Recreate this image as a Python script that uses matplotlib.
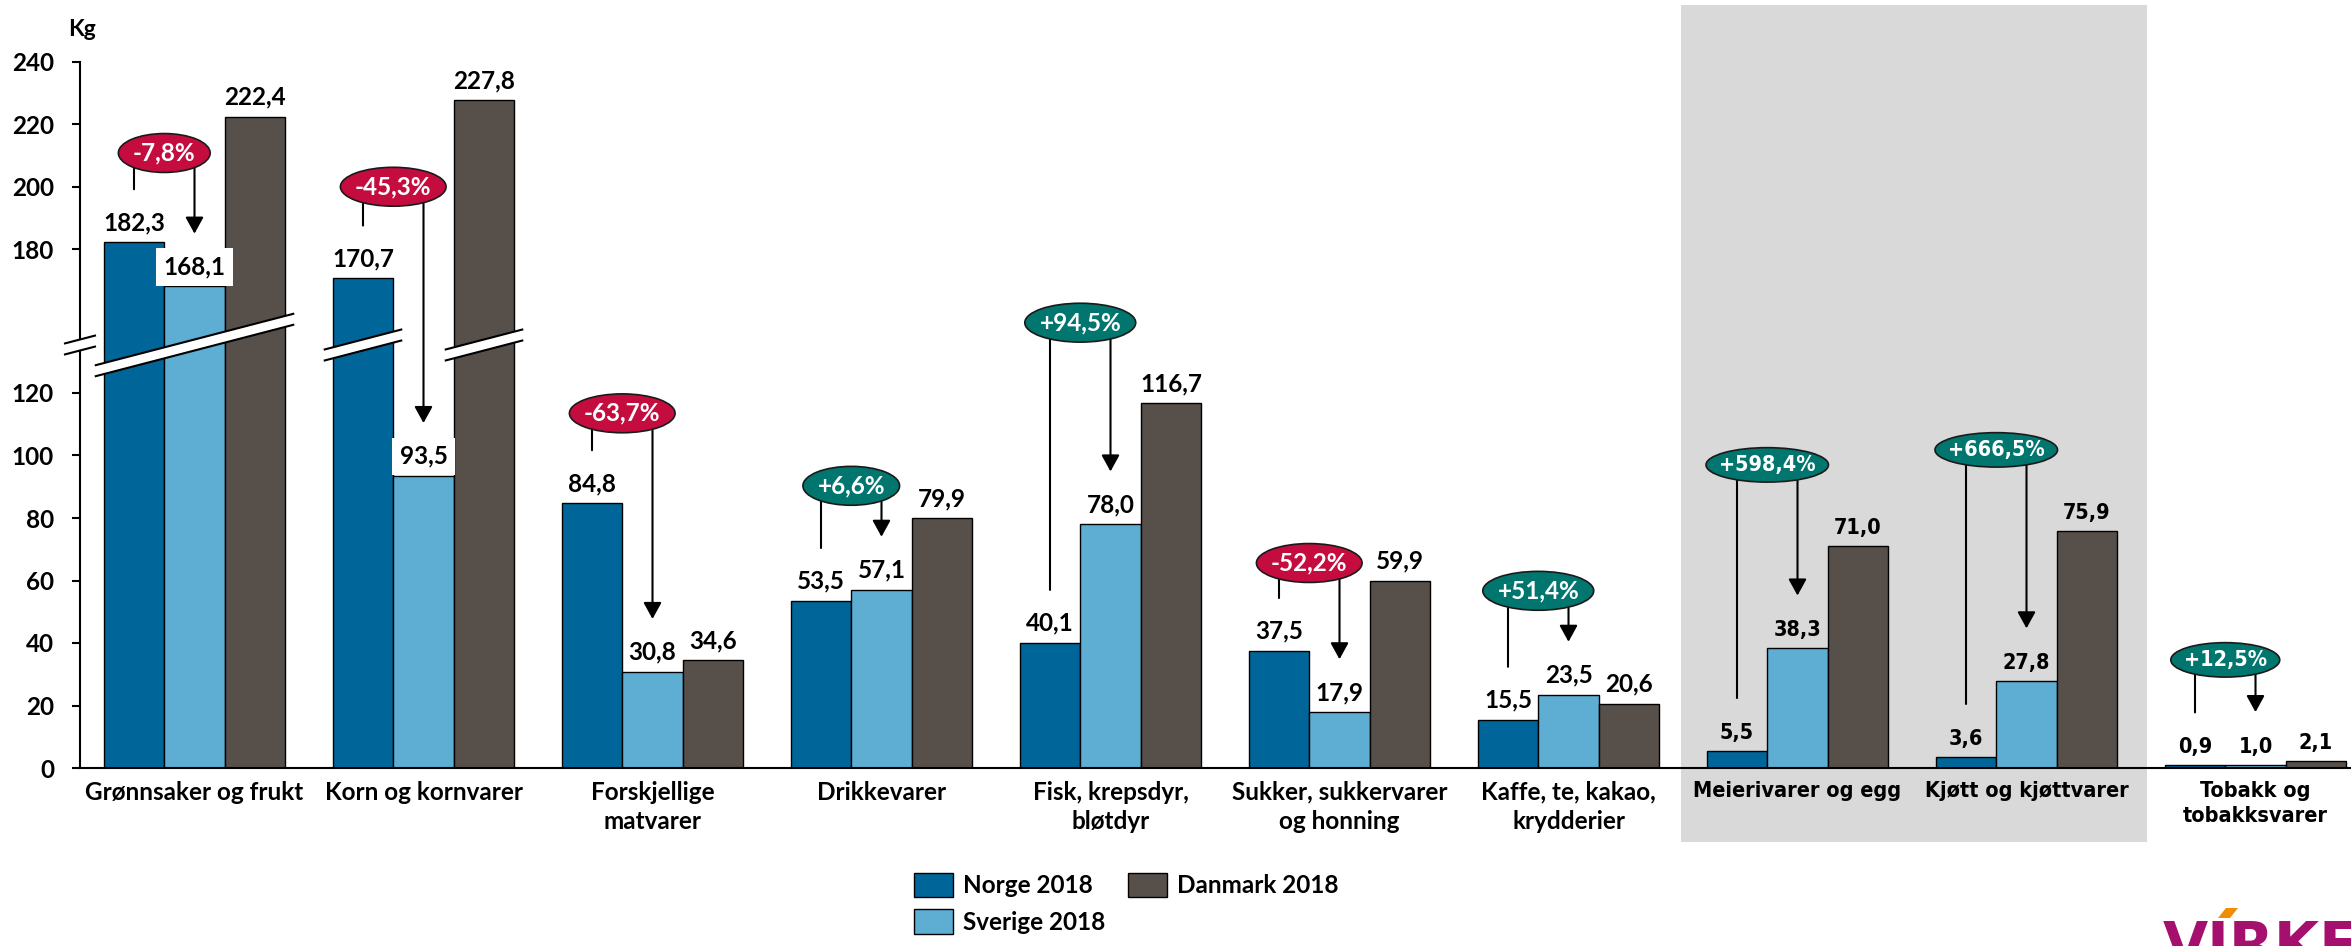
import numpy as np
import matplotlib
matplotlib.use("Agg")
import matplotlib.pyplot as plt
from matplotlib.patches import Patch, Polygon, Rectangle
from matplotlib.path import Path
from matplotlib.transforms import Affine2D, blended_transform_factory

# ---------------- data ----------------
categories = ['Grønnsaker og frukt', 'Korn og kornvarer', 'Forskjellige\nmatvarer',
              'Drikkevarer', 'Fisk, krepsdyr,\nbløtdyr', 'Sukker, sukkervarer\nog honning',
              'Kaffe, te, kakao,\nkrydderier', 'Meierivarer og egg', 'Kjøtt og kjøttvarer',
              'Tobakk og\ntobakksvarer']
norge = [182.3, 170.7, 84.8, 53.5, 40.1, 37.5, 15.5, 5.5, 3.6, 0.9]
sverige = [168.1, 93.5, 30.8, 57.1, 78.0, 17.9, 23.5, 38.3, 27.8, 1.0]
danmark = [222.4, 227.8, 34.6, 79.9, 116.7, 59.9, 20.6, 71.0, 75.9, 2.1]
changes = ['-7,8%', '-45,3%', '-63,7%', '+6,6%', '+94,5%', '-52,2%', '+51,4%',
           '+598,4%', '+666,5%', '+12,5%']
series_names = ['Norge 2018', 'Sverige 2018', 'Danmark 2018']
yticks = [0, 20, 40, 60, 80, 100, 120, 180, 200, 220, 240]

# layout (annotation bubble heights, in kg on the broken axis)
bubble_y = [210.8, 200.0, 113.5, 90.3, 156.5, 65.6, 56.7, 97.0, 101.8, 34.6]

# ---------------- style ----------------
C_NO = '#006699'
C_SE = '#5EADD3'
C_DK = '#574F4A'
C_NEG = '#C40C3E'
C_POS = '#00766E'
C_BAND = '#D9D9D9'
LEFT_FONT = dict(family='Lato', weight='bold', size=17.5)
RIGHT_FONT = dict(family='DejaVu Sans', weight='bold', stretch='condensed', size=15.5)
N_LEFT = 7  # groups using the first font

W, H = 2351, 946
fig = plt.figure(figsize=(W / 100, H / 100), dpi=100)
ax = fig.add_axes([80 / W, 1 - 768 / H, (W - 80) / W, 706.25 / H])
ax.patch.set_visible(False)

# broken y scale
B, G = 136.0, 14.0


def fwd(v):
    v = np.asarray(v, float)
    return np.where(v <= B, v, np.where(v >= B + G, v - G, B))


def inv(d):
    d = np.asarray(d, float)
    return np.where(d <= B, d, d + G)


ax.set_yscale('function', functions=(fwd, inv))
ax.set_ylim(0, 240)
ax.set_xlim(-0.5, 9.417)

x = np.arange(len(categories))
bw = 0.2642

ax.bar(x - bw, norge, bw, color=C_NO, edgecolor='black', linewidth=1.0, zorder=3)
ax.bar(x, sverige, bw, color=C_SE, edgecolor='black', linewidth=1.0, zorder=3)
ax.bar(x + bw, danmark, bw, color=C_DK, edgecolor='black', linewidth=1.0, zorder=3)

# grey highlight band (groups 8-9)
bt = blended_transform_factory(ax.transData, fig.transFigure)
ax.add_patch(Rectangle((6.49, 1 - 842 / H), 8.525 - 6.49, (842 - 5) / H,
                       transform=bt, facecolor=C_BAND, edgecolor='none',
                       zorder=0, clip_on=False))

# spines / ticks
for s in ['top', 'right']:
    ax.spines[s].set_visible(False)
ax.spines['left'].set_linewidth(1.5)
ax.spines['bottom'].set_linewidth(1.5)
ax.spines['left'].set_zorder(4)
ax.spines['bottom'].set_zorder(4)
ax.set_yticks(yticks)
ax.set_yticklabels([str(t) for t in yticks], **LEFT_FONT)
ax.tick_params(axis='y', direction='out', length=5.8, width=1.5, pad=13)
ax.set_xticks(x)
ax.set_xticklabels(categories, **LEFT_FONT, linespacing=1.33)
ax.tick_params(axis='x', length=0, pad=9)
for lbl in ax.get_xticklabels()[N_LEFT:]:
    lbl.set_fontfamily(RIGHT_FONT['family'])
    lbl.set_fontstretch(RIGHT_FONT['stretch'])
    lbl.set_fontsize(RIGHT_FONT['size'])


def fmt(v):
    return f"{v:.1f}".replace('.', ',')


# value labels
for i in range(len(categories)):
    font = LEFT_FONT if i < N_LEFT else RIGHT_FONT
    for xs, vals in ((x[i] - bw, norge), (x[i], sverige), (x[i] + bw, danmark)):
        v = vals[i]
        box = None
        if vals is sverige and i < 2:
            box = dict(boxstyle='square,pad=0.3', fc='white', ec='none')
        ax.annotate(fmt(v), xy=(xs, v), xytext=(0, 8.6), textcoords='offset points',
                    ha='center', va='baseline', zorder=8, bbox=box, **font)


# change bubbles with connector lines
def ellipse_box(x0, y0, width, height, mutation_size):
    cx, cy = x0 + width / 2, y0 + height / 2
    a = width / 2 + 0.6 * mutation_size
    b = 0.8 * mutation_size
    return Affine2D().scale(a, b).translate(cx, cy).transform_path(Path.unit_circle())


for i in range(len(categories)):
    font = LEFT_FONT if i < N_LEFT else RIGHT_FONT
    xn, xsv = x[i] - bw, x[i]
    yb = bubble_y[i]
    ax.annotate('', xy=(xn, norge[i]), xytext=(xn, yb),
                arrowprops=dict(arrowstyle='-', shrinkA=0, shrinkB=38, lw=1.5,
                                color='black'), zorder=6)
    ax.annotate('', xy=(xsv, sverige[i]), xytext=(xsv, yb),
                arrowprops=dict(arrowstyle='-|>,head_length=1.0,head_width=0.55',
                                mutation_scale=10, shrinkA=0, shrinkB=38, lw=1.5,
                                color='black', fc='black'), zorder=6)
    col = C_NEG if changes[i].startswith('-') else C_POS
    ax.text((xn + xsv) / 2, yb, changes[i], ha='center', va='center', color='white',
            zorder=9, bbox=dict(boxstyle=ellipse_box, fc=col, ec='#1a1a1a', lw=1.2),
            **font)

# axis break marks
ba = blended_transform_factory(ax.transData, ax.transAxes)
yc = (768 - 345) / 706.25
slope = 0.26 * 229 / 706.25
hg = 5.5 / 706.25


def draw_break(x0, x1, xc):
    ylo = [yc + slope * (xx - xc) - hg for xx in (x0, x1)]
    yhi = [yc + slope * (xx - xc) + hg for xx in (x0, x1)]
    ax.add_patch(Polygon([(x0, ylo[0]), (x1, ylo[1]), (x1, yhi[1]), (x0, yhi[0])],
                         closed=True, transform=ba, facecolor='white', edgecolor='none',
                         zorder=7, clip_on=False))
    ax.plot([x0, x1], ylo, color='black', lw=1.5, transform=ba, zorder=7.5, clip_on=False)
    ax.plot([x0, x1], yhi, color='black', lw=1.5, transform=ba, zorder=7.5, clip_on=False)


m = 8 / 229
thr = B + G
for i in range(len(categories)):
    flags = [norge[i] > thr, sverige[i] > thr, danmark[i] > thr]
    j = 0
    while j < 3:
        if flags[j]:
            k = j
            while k + 1 < 3 and flags[k + 1]:
                k += 1
            left = x[i] + (j - 1) * bw - bw / 2
            right = x[i] + (k - 1) * bw + bw / 2
            draw_break(left - m, right + m, (left + right) / 2)
            j = k + 1
        else:
            j += 1
draw_break(-0.5 - 15 / 229, -0.5 + 15 / 229, -0.5)

# unit label
fig.text(68 / W, 1 - 30 / H, 'Kg', ha='left', va='center', family='Lato',
         weight='bold', size=16.5)

# legend
handles = [Patch(facecolor=c, edgecolor='black', linewidth=1.0) for c in (C_NO, C_SE, C_DK)]
fig.legend(handles, series_names, loc='upper left', bbox_to_anchor=(914 / W, 1 - 873 / H),
           ncol=2, frameon=False, borderpad=0, borderaxespad=0, handlelength=1.6,
           handleheight=1.15, handletextpad=0.4, columnspacing=0.95, labelspacing=0.5,
           prop=dict(family='Lato', weight='bold', size=17.5))

# logo (partially cut off at the bottom edge, as in the reference)
fig.text(2163 / W, 1 - 964 / H, 'VIRKE', ha='left', va='baseline', color='#A5106E',
         family='DejaVu Sans', weight='bold', size=42)
fig.patches.append(Polygon([(2218 / W, 1 - 918 / H), (2230 / W, 1 - 918 / H),
                            (2238 / W, 1 - 908 / H), (2226 / W, 1 - 908 / H)],
                           closed=True, transform=fig.transFigure, facecolor='#F28C00',
                           edgecolor='none'))

fig.savefig('out.png', dpi=100)
